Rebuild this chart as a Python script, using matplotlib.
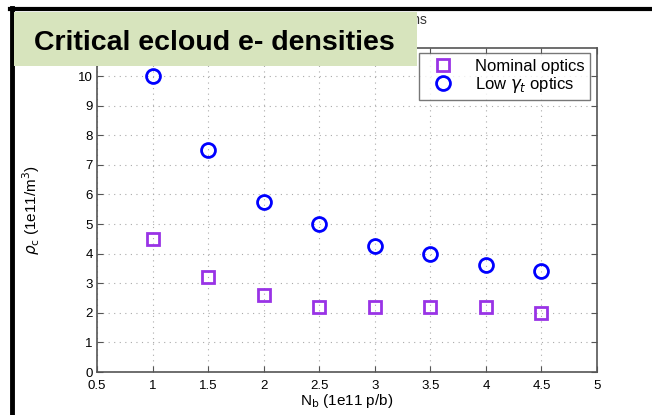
import matplotlib.pyplot as plt
from matplotlib.patches import Rectangle
from matplotlib.lines import Line2D

plt.rcParams['font.family'] = ['Liberation Sans', 'DejaVu Sans']

# data
nb = [1.0, 1.5, 2.0, 2.5, 3.0, 3.5, 4.0, 4.5]
nominal = [4.5, 3.2, 2.6, 2.2, 2.2, 2.2, 2.2, 2.0]
low_gt = [10.0, 7.5, 5.75, 5.0, 4.25, 4.0, 3.6, 3.4]
xticks = [0.5, 1, 1.5, 2, 2.5, 3, 3.5, 4, 4.5, 5]
yticks = list(range(0, 11))

W, H = 652, 415
fig = plt.figure(figsize=(W / 100, H / 100), dpi=100)
fig.patch.set_facecolor('white')

# axes box in pixels: left 97, right 597, top 48, bottom 372
ax = fig.add_axes([97 / W, 1 - 372 / H, 500 / W, 324 / H])
ax.plot(nb, nominal, ls='none', marker='s', ms=8.5, mfc='none', mec='#9933e6',
        mew=2, label='Nominal optics')
ax.plot(nb, low_gt, ls='none', marker='o', ms=10, mfc='none', mec='#0000ff',
        mew=2, label=r'Low $\gamma_t$ optics')

ax.set_xlim(0.5, 5)
ax.set_ylim(0, 10.95)
ax.set_xticks(xticks)
ax.set_xticklabels(['0.5', '1', '1.5', '2', '2.5', '3', '3.5', '4', '4.5', '5'])
ax.set_yticks(yticks)
ax.tick_params(direction='in', top=True, right=True, length=4, labelsize=9.5,
               color='#555555')
ax.tick_params(axis='x', pad=6)
ax.tick_params(axis='y', pad=3)
ax.grid(True, ls=(0, (1, 4)), color='#aaaaaa', lw=0.8)
for s in ax.spines.values():
    s.set_color('#555555')
    s.set_linewidth(1.2)

ax.set_xlabel(r'N$_\mathrm{b}$ (1e11 p/b)', fontsize=11, labelpad=0)
ax.set_ylabel(r'$\rho_\mathrm{c}$ (1e11/m$^3$)', fontsize=11, labelpad=26)
ax.set_title('Critical densities for 25 ns', fontsize=10, pad=17, color='#333333')

leg = ax.legend(loc='upper right', bbox_to_anchor=(493 / 500, 319 / 324),
                fontsize=12, frameon=True, fancybox=False, edgecolor='#555555',
                borderpad=0.35, labelspacing=0.05, handletextpad=0.8,
                handlelength=2.2, borderaxespad=0)
leg.get_frame().set_linewidth(1.0)

# slide frame: thick black top and left edges
fig.add_artist(Line2D([10 / W, 1], [1 - 9.5 / H, 1 - 9.5 / H], color='black', lw=3,
                      transform=fig.transFigure))
fig.add_artist(Line2D([12 / W, 12 / W], [0, 1 - 8 / H], color='black', lw=3.5,
                      transform=fig.transFigure))

# green title box over the top of the plot
fig.add_artist(Rectangle((14 / W, 1 - 66 / H), 403 / W, 54 / H,
                         transform=fig.transFigure, facecolor='#d7e4bd',
                         edgecolor='none', zorder=5))
fig.text(214 / W, 1 - 43 / H, 'Critical ecloud e- densities', fontsize=20.5,
         fontweight='bold', ha='center', va='center', zorder=6)

fig.savefig('out.png', dpi=100)
